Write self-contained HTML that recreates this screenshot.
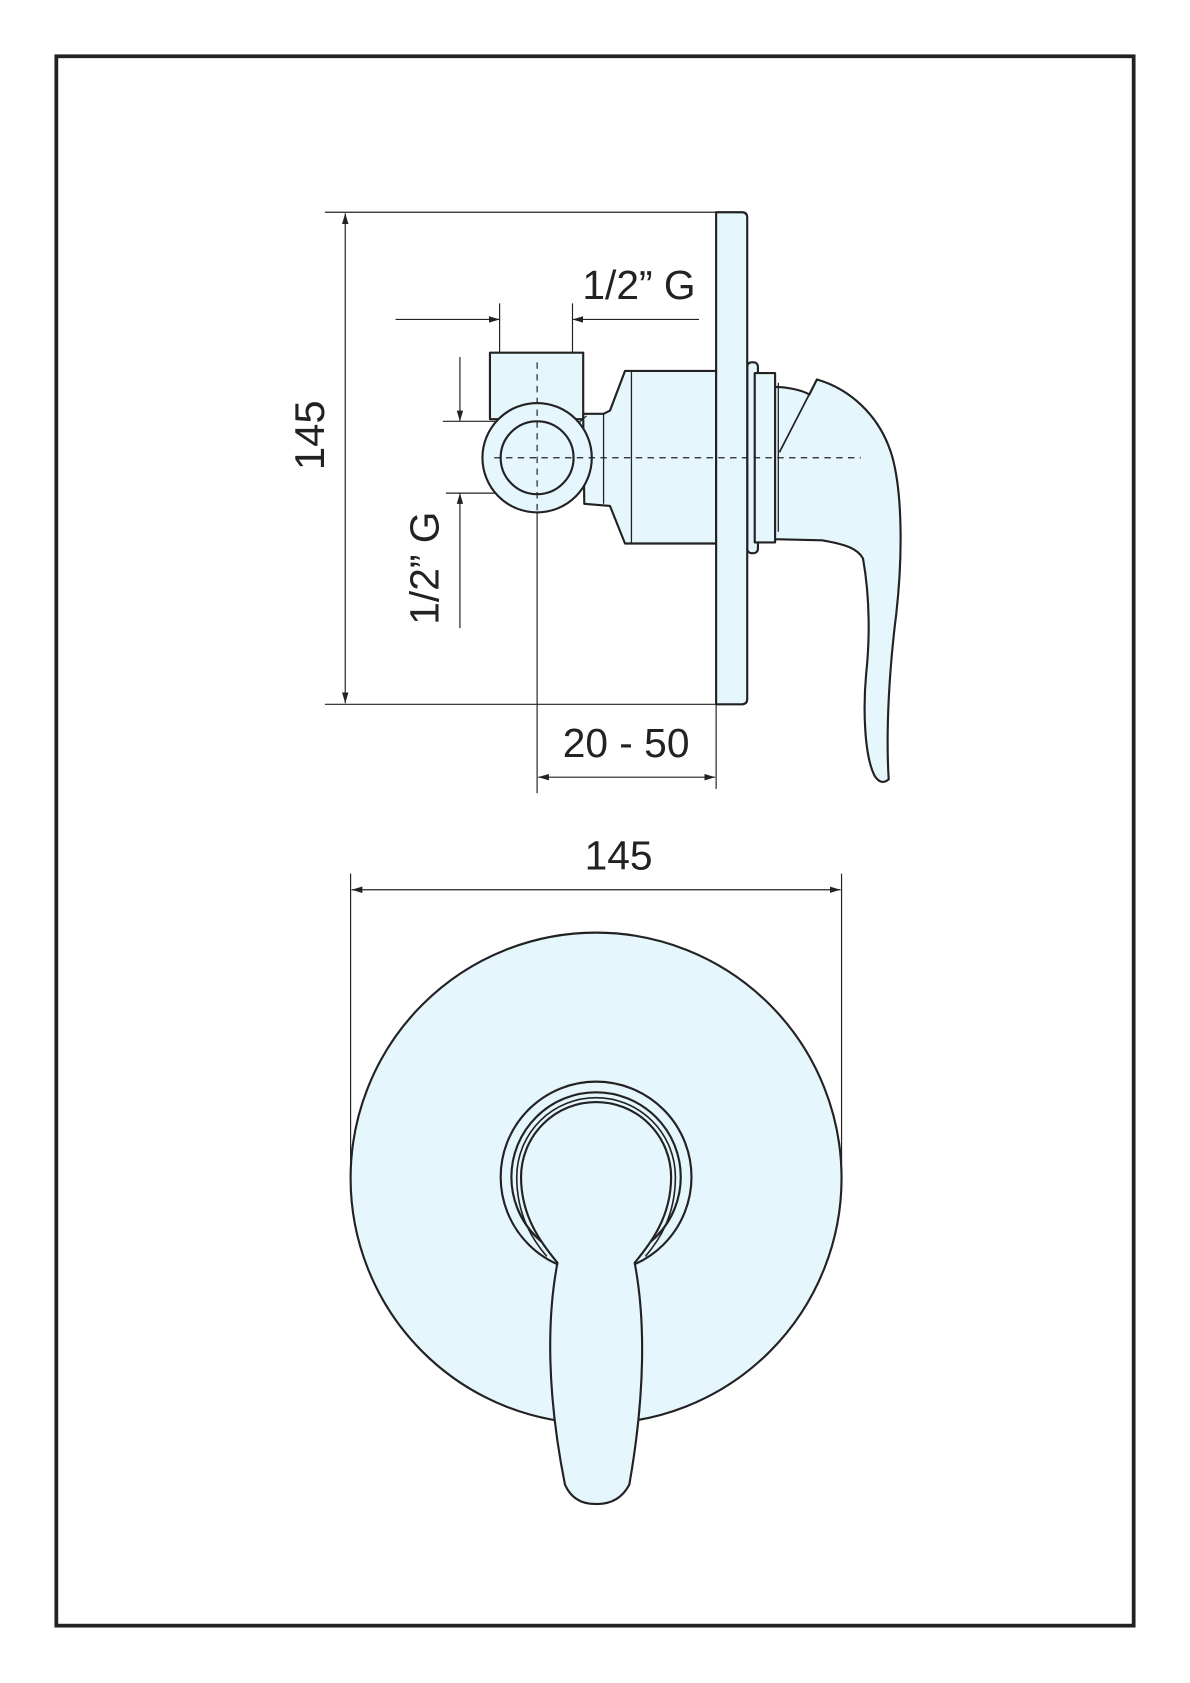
<!DOCTYPE html>
<html><head><meta charset="utf-8"><style>
html,body{margin:0;padding:0;background:#fff;}
svg{display:block;}
text{font-family:"Liberation Sans",sans-serif;fill:#222;}
</style></head><body>
<svg width="1190" height="1683" viewBox="0 0 1110 1570" xmlns="http://www.w3.org/2000/svg">
<defs>
<marker id="a" viewBox="0 0 10 6" refX="10" refY="3" markerWidth="10" markerHeight="6" markerUnits="userSpaceOnUse" orient="auto-start-reverse">
<path d="M0,0 L10,3 L0,6 Z" fill="#222"/></marker>
</defs>
<rect x="52.5" y="52.5" width="1005" height="1464" fill="none" stroke="#222" stroke-width="3.5"/>
<g stroke="#222" stroke-width="1.1" fill="none">
<line x1="303" y1="198" x2="668" y2="198"/>
<line x1="303" y1="657" x2="668" y2="657"/>
<line x1="322" y1="199" x2="322" y2="656" marker-start="url(#a)" marker-end="url(#a)"/>
<line x1="369" y1="298" x2="466" y2="298" marker-end="url(#a)"/>
<line x1="652" y1="298" x2="534" y2="298" marker-end="url(#a)"/>
<line x1="466" y1="283" x2="466" y2="329"/>
<line x1="534" y1="283" x2="534" y2="329"/>
<line x1="413" y1="393" x2="500" y2="393"/>
<line x1="416" y1="460" x2="501" y2="460"/>
<line x1="429" y1="333" x2="429" y2="393" marker-end="url(#a)"/>
<line x1="429" y1="586" x2="429" y2="460" marker-end="url(#a)"/>
<line x1="501" y1="478" x2="501" y2="740"/>
<line x1="668" y1="657" x2="668" y2="736"/>
<line x1="502" y1="725" x2="667" y2="725" marker-start="url(#a)" marker-end="url(#a)"/>
</g>
<text x="292" y="406" font-size="39" text-anchor="middle" transform="rotate(-90 292 406)" dominant-baseline="middle">145</text>
<text x="596" y="279" font-size="38" text-anchor="middle">1/2” G</text>
<text x="399" y="530" font-size="38" text-anchor="middle" transform="rotate(-90 399 530)" dominant-baseline="middle">1/2” G</text>
<text x="584" y="706" font-size="38" text-anchor="middle">20 - 50</text>
<g stroke="#222" stroke-width="2" fill="#e6f6fd" stroke-linejoin="round">
<rect x="457" y="329" width="87" height="62"/>
<path d="M544,386 L563,386 L569,383 L583,346 L668,346 L668,507 L583,507 L569,472 L545,470 Z"/>
<line x1="563" y1="386" x2="563" y2="470" stroke-width="1.2"/>
<line x1="589" y1="346" x2="589" y2="507" stroke-width="1.2"/>
<line x1="538" y1="396" x2="547" y2="388" stroke-width="1.2"/>
<path d="M722,361 C735,361 748,364 755,368 L762,354 C790,362 820,385 832,425 C842,460 842,520 836,573 C830,620 826,680 829,727 Q822,733 816,724 C806,705 805,660 808,628 C811,600 812,560 805,521 C800,512 790,508 767,504 L722,503 Z"/>
<path d="M762,354 L727,422" fill="none" stroke-width="1.6"/>
<rect x="697" y="338" width="10" height="178" rx="4"/>
<rect x="704" y="348" width="19" height="158"/>
<line x1="726" y1="357" x2="726" y2="496" stroke-width="1.2"/>
<path d="M668,198 L692,198 Q697,198 697,203 L697,652 Q697,657 692,657 L668,657 Z"/>
<circle cx="501" cy="427" r="51"/>
<circle cx="501" cy="427" r="34"/>
</g>
<g stroke="#222" stroke-width="1.1" stroke-dasharray="6,5" fill="none">
<line x1="461" y1="427" x2="803" y2="427"/>
<line x1="501" y1="338" x2="501" y2="478"/>
</g>
<g stroke="#222" stroke-width="1.1" fill="none">
<line x1="327" y1="815" x2="327" y2="1085"/>
<line x1="785" y1="815" x2="785" y2="1085"/>
<line x1="328" y1="830" x2="784" y2="830" marker-start="url(#a)" marker-end="url(#a)"/>
</g>
<text x="577" y="811" font-size="38" text-anchor="middle">145</text>
<g stroke="#222" stroke-width="2" fill="#e6f6fd">
<circle cx="556" cy="1099" r="229"/>
<circle cx="556" cy="1098" r="89"/>
<circle cx="556" cy="1098" r="79"/>
<path d="M520,1178 C505,1160 486,1135 486,1098 A70,70 0 0 1 626,1098 C626,1135 607,1160 592,1178 C602,1230 602,1300 587,1385 Q577,1404 555,1403 Q535,1403 527,1385 C510,1300 510,1230 520,1178 Z"/>
<path d="M510,1172 C498,1158 482,1135 482,1098 A74,74 0 0 1 630,1098 C630,1135 614,1158 602,1172" fill="none" stroke-width="1.5"/>
</g>
</svg>
</body></html>
